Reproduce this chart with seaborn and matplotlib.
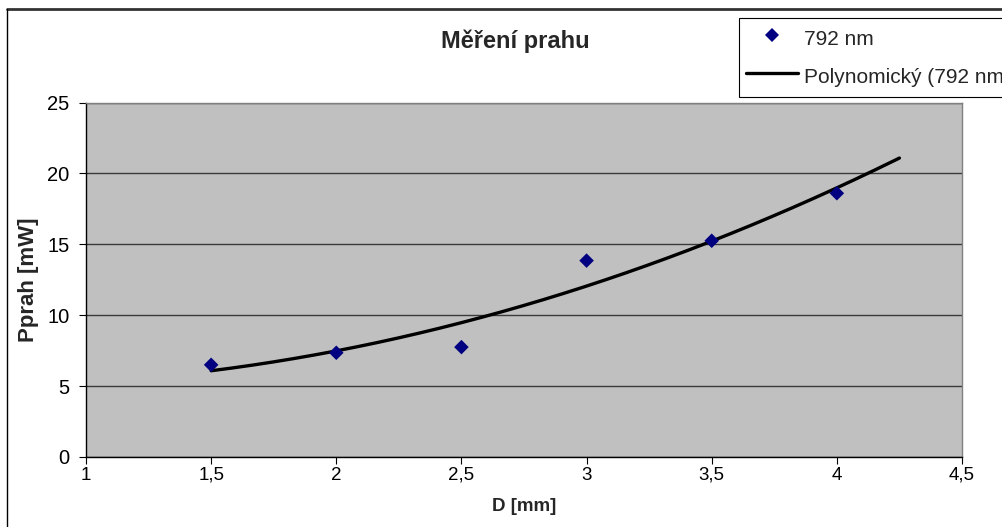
import numpy as np
import pandas as pd
import matplotlib
matplotlib.use("Agg")
import matplotlib.pyplot as plt
import seaborn as sns
from matplotlib.lines import Line2D

# Measured threshold power vs. diameter
diameter_mm = [1.5, 2.0, 2.5, 3.0, 3.5, 4.0]
power_mw = [6.5, 7.35, 7.75, 13.85, 15.25, 18.6]
series_name = "792 nm"
trend_name = "Polynomický (792 nm)"
x_ticks = [1, 1.5, 2, 2.5, 3, 3.5, 4, 4.5]
y_ticks = [0, 5, 10, 15, 20, 25]

sns.set_theme(style="white")
plt.rcParams["font.family"] = ["Liberation Sans", "DejaVu Sans"]

df = pd.DataFrame({"D": diameter_mm, "P": power_mw})

# Second-order polynomial trend line, extended forward by 0.25
coef = np.polyfit(df["D"], df["P"], 2)
trend_x = np.linspace(min(diameter_mm), max(diameter_mm) + 0.25, 200)
trend = pd.DataFrame({"D": trend_x, "P": np.polyval(coef, trend_x)})

W, H = 1002, 527
fig = plt.figure(figsize=(W / 100, H / 100), dpi=100)
ax = fig.add_axes([86 / W, 1 - 457 / H, 876 / W, 354.5 / H])
ax.set_facecolor("#C0C0C0")

sns.lineplot(data=trend, x="D", y="P", ax=ax, color="black", linewidth=2.4,
             zorder=3, legend=False)
sns.scatterplot(data=df, x="D", y="P", ax=ax, marker="D", color="#000080",
                s=55, edgecolor="none", zorder=4, legend=False)

ax.set_xlim(1, 4.5)
ax.set_ylim(0, 25)
ax.set_xticks(x_ticks)
ax.set_yticks(y_ticks)
ax.set_xticklabels([f"{t:g}".replace(".", ",") for t in x_ticks], fontsize=13.5)
ax.set_yticklabels([str(t) for t in y_ticks], fontsize=14.5)
ax.tick_params(axis="both", direction="out", length=5, width=0.8,
               color="black", labelcolor="black", bottom=True, left=True)
ax.tick_params(axis="x", pad=2)
ax.tick_params(axis="y", pad=7)

ax.yaxis.grid(True, color="#3a3a3a", linewidth=1.0)
ax.set_axisbelow(True)
for side in ["top", "right"]:
    ax.spines[side].set_color("#808080")
    ax.spines[side].set_linewidth(1.0)
for side in ["left", "bottom"]:
    ax.spines[side].set_color("black")
    ax.spines[side].set_linewidth(1.0)

ax.set_xlabel("D [mm]", fontsize=13.5, fontweight="bold", labelpad=10)
ax.set_ylabel("Pprah [mW]", fontsize=16, fontweight="bold", labelpad=6)
fig.text(515 / W, 1 - 41 / H, "Měření prahu", ha="center", va="center",
         fontsize=17, fontweight="bold")

# Chart-area frame
fig.add_artist(Line2D([7 / W, 1.0], [1 - 9 / H, 1 - 9 / H],
                      transform=fig.transFigure, color="#333333", linewidth=2))
fig.add_artist(Line2D([7 / W, 7 / W], [0.0, 1 - 9 / H],
                      transform=fig.transFigure, color="black", linewidth=1))

handles = [
    Line2D([], [], marker="D", linestyle="none", color="#000080",
           markersize=7.5, markeredgewidth=0),
    Line2D([], [], color="black", linewidth=2.4),
]
leg = fig.legend(handles, [series_name, trend_name], loc="upper left",
                 bbox_to_anchor=(739 / W, 1 - 18 / H), fontsize=15,
                 frameon=True, fancybox=False, framealpha=1, edgecolor="black",
                 borderpad=0.35, handlelength=2.5, handleheight=1.6,
                 handletextpad=0.25, labelspacing=0.5, borderaxespad=0)
leg.get_frame().set_linewidth(0.8)

fig.savefig("out.png", dpi=100)
